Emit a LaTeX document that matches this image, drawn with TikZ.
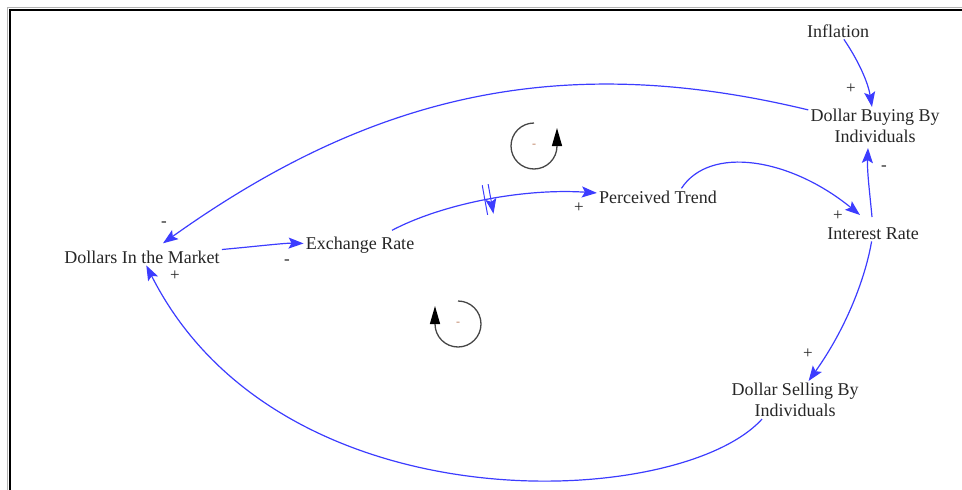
\documentclass[tikz,border=0pt]{standalone}
\usepackage{fontspec}
\setmainfont{Liberation Serif}
\usetikzlibrary{arrows.meta,decorations.markings,calc}
\definecolor{cldblue}{RGB}{60,60,255}
\definecolor{loopgrey}{RGB}{70,70,70}
\definecolor{signorange}{RGB}{190,130,100}
\begin{document}
\begin{tikzpicture}[x=1pt,y=-1pt,
 var/.style={inner sep=2pt, align=center, font=\fontsize{18}{21}\selectfont, text=black!85},
 pol/.style={inner sep=0pt, font=\fontsize{17}{17}\selectfont, text=black!85},
 conn/.style={draw=cldblue, line width=1.2pt, -{Stealth[length=15pt,width=11pt,inset=3pt]}},
 delaymark/.style={postaction={decorate}, decoration={markings, mark=at position 0.48 with {\draw[cldblue, line width=1pt] (-3,-15)--(-3,15) (3,-15)--(3,15);}}},
 loopar/.style={draw=loopgrey, line width=1.3pt, -{Triangle[length=18pt,width=10pt,color=black]}},
 loopsign/.style={inner sep=0pt, font=\fontsize{12}{12}\selectfont, text=signorange}
]
\useasboundingbox (0,0) rectangle (962,490);
% frame
\draw[black!30, line width=1pt] (7,7.5) -- (962,7.5);
\draw[black!30, line width=1pt] (7,7.5) -- (7,490);
\draw[black, line width=2pt] (9,10) -- (962,10);
\draw[black, line width=2pt] (10,10) -- (10,490);

% variables
\node[var, anchor=base] (infl) at (838,37) {Inflation};
\node[var] (buy) at (875,126) {Dollar Buying By\\Individuals};
\node[var, anchor=base] (trend) at (658,203) {Perceived Trend};
\node[var, anchor=base] (irate) at (873,239) {Interest Rate};
\node[var, anchor=base] (exch) at (360,249) {Exchange Rate};
\node[var, anchor=base] (dollars) at (142,263) {Dollars In the Market};
\node[var] (sell) at (795,400) {Dollar Selling By\\Individuals};

% connectors
\draw[conn] (infl) .. controls (858,60) and (868,82) .. (buy);
\draw[conn] (buy) .. controls (560,50) and (371,95) .. ($(dollars.north)+(21,-5)$);
\draw[conn] ($(irate.north)+(-1,-8)$) .. controls (870,195) and (867,172) .. ($(buy.south)+(-7,3)$);
\draw[conn] (trend.20) .. controls (710,145) and (790,158) .. ($(irate.north)+(-13,-10)$);
\draw[conn, delaymark] ($(exch.north)+(32,-4)$) .. controls (440,205) and (520,188) .. (trend);
\draw[conn] (dollars) .. controls (260,246) and (285,243) .. (exch);
\draw[conn] (irate) .. controls (865,280) and (845,330) .. (sell);
\draw[conn] (sell.-150) .. controls (680,510) and (280,530) .. (dollars);

% polarities
\node[pol] (p1) at (851,89) {+};
\node[pol] (p2) at (884,168) {-};
\node[pol] (p3) at (838,216) {+};
\node[pol] (p4) at (579,208) {+};
\node[pol] (p5) at (164,224) {-};
\node[pol] (p6) at (287,262) {-};
\node[pol] (p7) at (175,276) {+};
\node[pol] (p8) at (808,354) {+};

% loop markers
\coordinate (l1) at (534,146);
\coordinate (l2) at (458,324);
\draw[loopar] ($(l1)+(0,-23)$) arc[start angle=-90, end angle=-360, radius=23] -- ++(0,-18);
\draw[loopar] ($(l2)+(0,-23)$) arc[start angle=-90, end angle=180, radius=23] -- ++(0,-18);
\node[loopsign] at (l1) {-};
\node[loopsign] at (l2) {-};
\end{tikzpicture}
\end{document}
